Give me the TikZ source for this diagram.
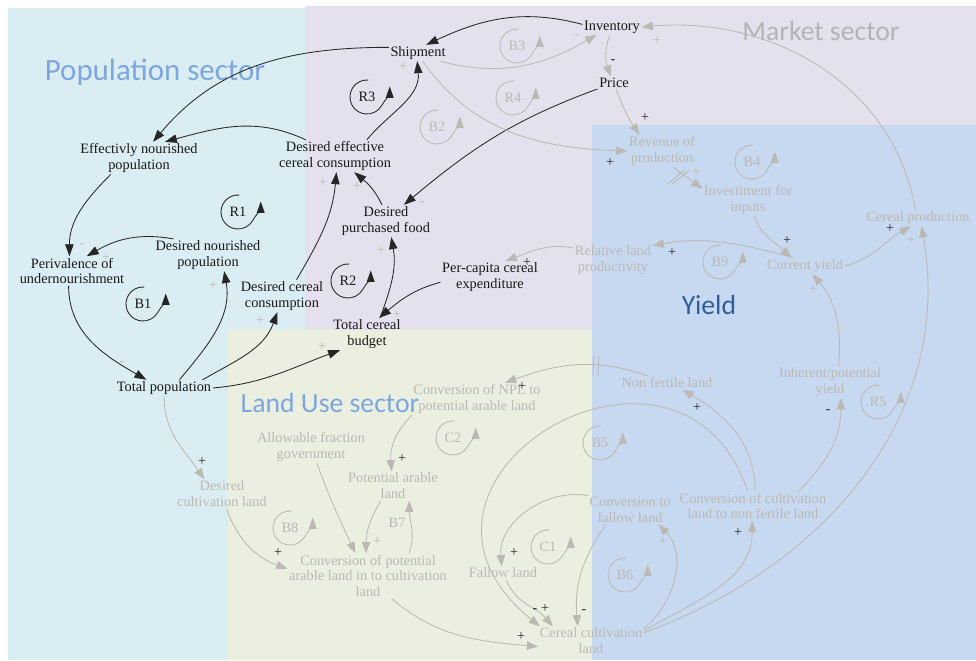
\documentclass[tikz,border=0pt]{standalone}
\usepackage{fontspec}
\setmainfont{Liberation Serif}
\newfontfamily\sectorfont{Carlito}
\usetikzlibrary{arrows.meta}

\definecolor{popbg}{HTML}{DAEDF3}
\definecolor{mktbg}{HTML}{E5E0ED}
\definecolor{landbg}{HTML}{EAEFDF}
\definecolor{yieldbg}{HTML}{C6D9F0}
\definecolor{faded}{HTML}{BCB9B4}
\definecolor{sectorblue}{HTML}{7EA6DE}
\definecolor{yieldblue}{HTML}{2F5D9D}
\definecolor{mktgray}{HTML}{B4B4B4}

\tikzset{
    var/.style={align=center, inner sep=1pt, font=\fontsize{10.2}{11.3}\selectfont, text=black!90},
    fadedvar/.style={var, text=faded},
    link/.style={draw=black!85, line width=0.6pt, -{Triangle[length=8.5pt,width=6pt]}},
    fadedlink/.style={draw=faded, line width=0.6pt, -{Triangle[length=8pt,width=6pt]}},
    looplink/.style={line width=0.6pt, -{Triangle[length=8pt,width=5.5pt]}},
    sign/.style={inner sep=0pt, font=\fontsize{10}{10}\selectfont},
    sector/.style={inner sep=0pt, font=\sectorfont\fontsize{19.7}{22}\selectfont},
}

\begin{document}
\begin{tikzpicture}[x=0.025cm,y=0.025cm]

\def\lr{0.425cm}

\useasboundingbox (0,0) rectangle (976,-660);

\fill[popbg] (8,-8) rectangle (305,-660);
\fill[mktbg] (305,-6) rectangle (976,-330);
\fill[landbg] (228,-330) rectangle (592,-660);
\fill[yieldbg] (592,-125) rectangle (976,-660);

\node[sector, text=sectorblue, font=\sectorfont\fontsize{22}{24}\selectfont] (popsector) at (155,-72) {Population sector};
\node[sector, text=mktgray] (mktsector) at (821,-31) {Market sector};
\node[sector, text=yieldblue] (yieldsector) at (709,-305) {Yield};
\node[sector, text=sectorblue] (landsector) at (330,-403) {Land Use sector};

% variables
\node[var] (inv) at (612,-27) {Inventory};
\node[var] (ship) at (418,-53) {Shipment};
\node[var] (price) at (614,-83) {Price};
\node[var] (effnour) at (139,-158) {Effectivly nourished\\population};
\node[var] (deceff) at (335,-156) {Desired effective\\cereal consumption};
\node[var] (dpf) at (386,-221) {Desired\\purchased food};
\node[var] (dnour) at (208,-255) {Desired nourished\\population};
\node[var] (perival) at (72,-271) {Perivalence of\\undernourishment};
\node[var] (dcc) at (282,-296) {Desired cereal\\consumption};
\node[var] (pcce) at (490,-277) {Per-capita cereal\\expenditure};
\node[var] (tcb) at (367,-334) {Total cereal\\budget};
\node[var] (totpop) at (164,-388) {Total population};

\node[fadedvar] (rev) at (662,-151) {Revenue of\\production};
\node[fadedvar] (invest) at (748,-200) {Investiment for\\inputs};
\node[fadedvar] (cprod) at (918,-218) {Cereal production};
\node[fadedvar] (rlp) at (613,-260) {Relative land\\productivity};
\node[fadedvar] (cyield) at (805,-266) {Current yield};
\node[fadedvar] (inher) at (830,-382) {Inherent/potential\\yield};
\node[fadedvar] (nfl) at (667,-383) {Non fertile land};
\node[fadedvar] (cnpl) at (477,-399) {Conversion of NPL to\\potential arable land};
\node[fadedvar] (allow) at (311,-447) {Allowable fraction\\government};
\node[fadedvar] (dcl) at (222,-494) {Desired\\cultivation land};
\node[fadedvar] (pal) at (393,-486) {Potential arable\\land};
\node[fadedvar] (ctf) at (630,-510) {Conversion to\\fallow land};
\node[fadedvar] (ccnf) at (753,-506) {Conversion of cultivation\\land to non fertile land};
\node[fadedvar] (cpal) at (368,-576) {Conversion of potential\\arable land in to cultivation\\land};
\node[fadedvar] (fallow) at (503,-573) {Fallow land};
\node[fadedvar] (ccl) at (591,-641) {Cereal cultivation\\land};

% loops
\foreach \lx/\ly/\ln in {238/212/R1,367/97/R3,348/281/R2,143/304/B1}
{
    \node[var] (loop\ln) at (\lx,-\ly) {\ln};
    \draw[looplink, draw=black!85] (\lx,-\ly) ++(85:\lr) arc[start angle=85,end angle=330,radius=\lr] to[out=60,in=-90] ++(8,19);
}
\foreach \lx/\ly/\ln in {517/46/B3,513/98/R4,437/127/B2,752/162/B4,720/262/B9,878/402/R5,453/438/C2,600/443/B5,548/547/C1,625/575/B6,290/528/B8}
{
    \node[fadedvar] (loop\ln) at (\lx,-\ly) {\ln};
    \draw[looplink, draw=faded] (\lx,-\ly) ++(85:\lr) arc[start angle=85,end angle=330,radius=\lr] to[out=60,in=-90] ++(8,19);
}
\node[fadedvar] (loopB7) at (397,-523) {B7};

% black links
\draw[link] (inv.175) to[out=165,in=25] (ship.45);
\draw[link] (ship.169) to[out=180,in=50] (effnour.49);
\draw[link] (deceff.151) to[out=155,in=15] (effnour.32);
\draw[link] (deceff.27) to[out=50,in=-85] (ship.-95);
\draw[link] (price.200) to[out=200,in=40] (dpf.42);
\draw[link] (dpf.104) to[out=115,in=-40] (deceff.-40);
\draw[link] (tcb.51) to[out=70,in=-80] (dpf.-72);
\draw[link] (pcce.186) to[out=195,in=40] (tcb.53);
\draw[link] (dcc.48) to[out=60,in=-95] (deceff.-85);
\draw[link] (totpop.12) to[out=30,in=-110] (dcc.-106);
\draw[link] (totpop.east) to[out=5,in=200] (tcb.211);
\draw[link] (totpop.28) to[out=50,in=-80] (dnour.-45);
\draw[link] (dnour.155) to[out=170,in=30] (perival.45);
\draw[link] (effnour.210) to[out=225,in=90] (perival.100);
\draw[link] (perival.-103) to[out=-90,in=150] (totpop.155);

% faded links
\draw[fadedlink] (ship.-20) to[out=-15,in=210] (inv.207);
\draw[fadedlink] (inv.255) to[out=250,in=110] (price.115);
\draw[fadedlink] (ship.-60) to[out=-55,in=178] (rev.west);
\draw[fadedlink] (price.-70) to[out=-70,in=125] (rev.144);
\draw[fadedlink] (rev.-56) -- (invest.166);
\draw[fadedlink] (invest.-69) to[out=-70,in=135] (cyield.149);
\draw[fadedlink] (cyield.144) to[out=165,in=10] (rlp.20);
\draw[fadedlink] (rlp.163) to[out=170,in=20] (pcce.46);
\draw[fadedlink] (cyield.east) to[out=15,in=210] (cprod.228);
\draw[fadedlink] (cprod.107) to[out=100,in=5] (inv.east);
\draw[fadedlink] (ccl.9) to[out=20,in=-80] (cprod.-67);
\draw[fadedlink] (inher.62) to[out=85,in=-50] (cyield.-47);
\draw[fadedlink] (ccnf.18) to[out=45,in=-90] (inher.-56);
\draw[fadedlink] (ccnf.82) to[out=90,in=-30] (nfl.-24);
\draw[fadedlink] (nfl.160) to[out=160,in=20] (cnpl.30);
\draw[fadedlink] (cnpl.south west) to[out=225,in=95] (pal.95);
\draw[fadedlink] (pal.230) to[out=240,in=90] (cpal.95);
\draw[fadedlink] (cpal.29) to[out=70,in=-90] (pal.-42);
\draw[fadedlink] (allow.-70) to[out=-70,in=115] (cpal.119);
\draw[fadedlink] (dcl.-73) to[out=-70,in=160] (cpal.175);
\draw[fadedlink] (totpop.south) to[out=-90,in=125] (dcl.140);
\draw[fadedlink] (cpal.-44) to[out=-40,in=175] (ccl.186);
\draw[fadedlink] (ccnf.110) .. controls (680,-290) and (360,-480) .. (ccl.164);
\draw[fadedlink] (ctf.161) to[out=170,in=95] (fallow.100);
\draw[fadedlink] (fallow.-63) to[out=-70,in=130] (ccl.159);
\draw[fadedlink] (ctf.211) to[out=235,in=95] (ccl.132);
\draw[fadedlink] (ccl.13) to[out=40,in=-45] (ctf.-27);
\draw[fadedlink] (ccl.11) to[out=30,in=-90] (ccnf.-93);

% delays
\draw[faded, line width=0.6pt] (676,-177) ++(40:11) -- ++(220:22);
\draw[faded, line width=0.6pt] (681,-177) ++(40:11) -- ++(220:22);
\draw[faded, line width=0.6pt] (594,-355) -- (593,-376);
\draw[faded, line width=0.6pt] (599,-355) -- (598,-376);

% signs
\foreach \sx/\sy/\st [count=\i] in {610/163/+,645/118/+,613/62/-,672/253/+,787/241/+,890/229/+,527/263/+,697/408/+,828/412/-,738/533/+,522/387/+,402/459/+,514/553/+,535/611/-,545/609/+,584/612/-,521/637/+,202/462/+,278/553/+}
{
    \node[sign, text=black!85] (sgn\i) at (\sx,-\sy) {\st};
}
\foreach \sx/\sy/\st [count=\i] in {82/246/-,106/258/+,213/286/+,260/321/+,323/183/+,357/187/+,381/251/+,397/315/+,422/204/-,403/67/+,577/37/-,657/41/+,696/173/+,911/241/+,813/290/+,663/542/+,377/542/+,122/364/-,322/347/+}
{
    \node[sign, text=faded] (fsgn\i) at (\sx,-\sy) {\st};
}

\end{tikzpicture}
\end{document}
